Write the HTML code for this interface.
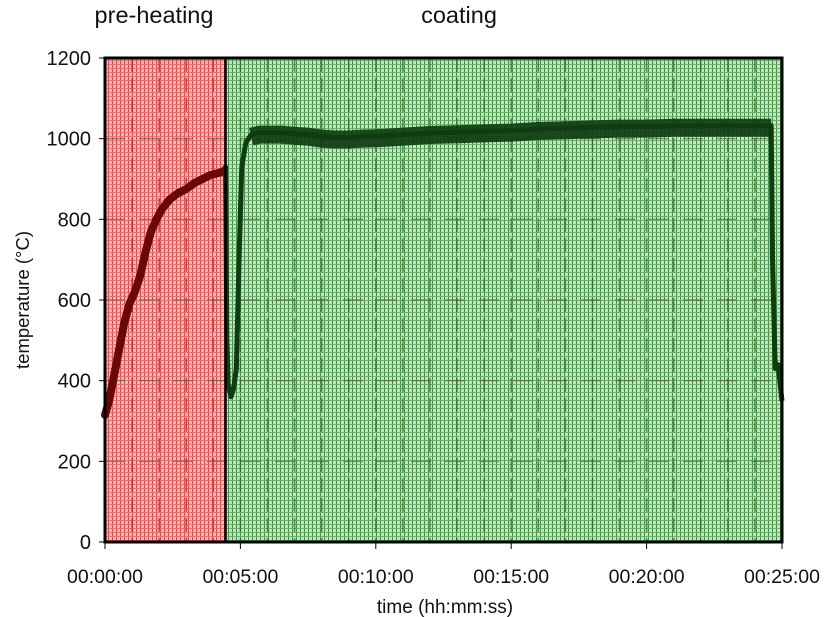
<!DOCTYPE html>
<html><head><meta charset="utf-8">
<style>
html,body{margin:0;padding:0;background:#fff;}
svg{display:block;font-family:"Liberation Sans",sans-serif;}
</style></head>
<body>
<svg id="chart" width="832" height="617" viewBox="0 0 832 617">
<defs>
<pattern id="pr" width="4" height="4" patternUnits="userSpaceOnUse">
<rect width="4" height="4" fill="#f5bcbc"/><rect width="1" height="4" fill="#e04848"/><rect width="4" height="1" fill="#ea7070"/>
</pattern>
<pattern id="pg" width="4" height="4" patternUnits="userSpaceOnUse">
<rect width="4" height="4" fill="#c4e3c4"/><rect width="1" height="4" fill="#3f8f3f"/><rect width="4" height="1" fill="#6cae6c"/>
</pattern>
</defs>
<g id="bg"></g>
<g id="grid"></g>
<g id="series"></g>
<g id="axes"></g>
</svg>
<script>
const yTicks=[0,200,400,600,800,1000,1200];
const xTickMinutes=[0,5,10,15,20,25];
const xTickLabels=["00:00:00","00:05:00","00:10:00","00:15:00","00:20:00","00:25:00"];
const phaseBoundary=4.45;
const preTime=[0,0.15,0.3,0.5,0.7,0.9,1.1,1.3,1.5,1.7,1.9,2.1,2.4,2.7,3.0,3.3,3.6,3.9,4.2,4.4];
const preTemp=[315,350,400,470,540,590,620,660,720,770,800,825,850,865,875,890,900,910,915,920];
const coatTime=[4.4,4.45,4.5,4.55,4.65,4.75,4.85,4.95,5.05,5.2,5.4,5.7,6,6.5,7,7.5,8,8.5,9,9.5,10,10.5,11,11.5,12,13,14,15,16,17,18,19,20,21,22,23,24,24.6,24.65,24.75,24.85,25];
const coatTemp=[925,930,500,390,360,380,430,700,930,990,1010,1015,1015,1015,1012,1010,1005,1003,1003,1005,1006,1008,1010,1012,1014,1016,1018,1020,1024,1026,1028,1030,1030,1032,1032,1032,1032,1032,700,430,440,350];
const X0=105,X1=782,Y0=542,Y1=58;
const xs=m=>X0+(X1-X0)*m/25;
const ys=v=>Y0-(Y0-Y1)*v/1200;
const NS="http://www.w3.org/2000/svg";
function mk(tag,attrs,parent){const e=document.createElementNS(NS,tag);for(const k in attrs)e.setAttribute(k,attrs[k]);parent.appendChild(e);return e;}
const bg=document.getElementById('bg'),grid=document.getElementById('grid'),ser=document.getElementById('series'),ax=document.getElementById('axes');
let r=mk('rect',{x:X0,y:Y1,width:xs(phaseBoundary)-X0,height:Y0-Y1,fill:'url(#pr)'},bg);


r=mk('rect',{x:xs(phaseBoundary),y:Y1,width:X1-xs(phaseBoundary),height:Y0-Y1,fill:'url(#pg)'},bg);


for(let m=1;m<25;m++){const c=m<phaseBoundary?'#c01010':'#1a6a1a';
 const l=mk('line',{x1:xs(m),x2:xs(m),y1:Y1,y2:Y0,stroke:c,'stroke-width':1.5,'stroke-dasharray':'14 6',opacity:0.7},grid);
 
 }
yTicks.forEach(v=>{if(v===0||v===1200)return;
 const l=mk('line',{x1:X0,x2:X1,y1:ys(v),y2:ys(v),stroke:'#553',"stroke-width":1.2,'stroke-dasharray':'20 14',opacity:0.7},grid);
 
 });
let d=preTime.map((t,i)=>(i?'L':'M')+xs(t)+' '+ys(preTemp[i])).join(' ');
let p=mk('path',{d:d,fill:'none',stroke:'#6a0808','stroke-width':8,'stroke-linejoin':'round','stroke-linecap':'round'},ser);


d=coatTime.map((t,i)=>(i?'L':'M')+xs(t)+' '+ys(coatTemp[i])).join(' ');
p=mk('path',{d:d,fill:'none',stroke:'#0f3d12','stroke-width':5,'stroke-linejoin':'round'},ser);


const cb=coatTime.filter(t=>t>=5.4&&t<=24.6);
p=mk('path',{d:cb.map((t,i)=>(i?'L':'M')+xs(t)+' '+ys(coatTemp[coatTime.indexOf(t)]-5)).join(' '),fill:'none',stroke:'#0f3d12','stroke-width':18,'stroke-linejoin':'round',opacity:0.92},ser);


let b=mk('line',{x1:xs(phaseBoundary),x2:xs(phaseBoundary),y1:Y1,y2:Y0,stroke:'#000','stroke-width':2.5},ax);


let fr=mk('rect',{x:X0,y:Y1,width:X1-X0,height:Y0-Y1,fill:'none',stroke:'#000','stroke-width':3},ax);


yTicks.forEach(v=>{mk('line',{x1:X0-6,x2:X0,y1:ys(v),y2:ys(v),stroke:'#000','stroke-width':1},ax);
 const t=mk('text',{x:X0-14,y:ys(v)+7,'text-anchor':'end','font-size':20,fill:'#111'},ax);t.textContent=v;
 
 });
xTickMinutes.forEach((m,i)=>{mk('line',{x1:xs(m),x2:xs(m),y1:Y0,y2:Y0+7,stroke:'#000','stroke-width':1},ax);
 const t=mk('text',{x:xs(m),y:583,'text-anchor':'middle','font-size':19.5,fill:'#111'},ax);t.textContent=xTickLabels[i];
 
 });
let t=mk('text',{x:445,y:613,'text-anchor':'middle','font-size':19,fill:'#111'},ax);t.textContent='time (hh:mm:ss)';


t=mk('text',{x:29,y:300,'text-anchor':'middle','font-size':18.5,fill:'#111',transform:'rotate(-90 29 300)'},ax);t.textContent='temperature (°C)';


t=mk('text',{x:154,y:23,'text-anchor':'middle','font-size':23.5,fill:'#111'},ax);t.textContent='pre-heating';


t=mk('text',{x:459,y:23,'text-anchor':'middle','font-size':23.5,fill:'#111'},ax);t.textContent='coating';


</script>
</body></html>
